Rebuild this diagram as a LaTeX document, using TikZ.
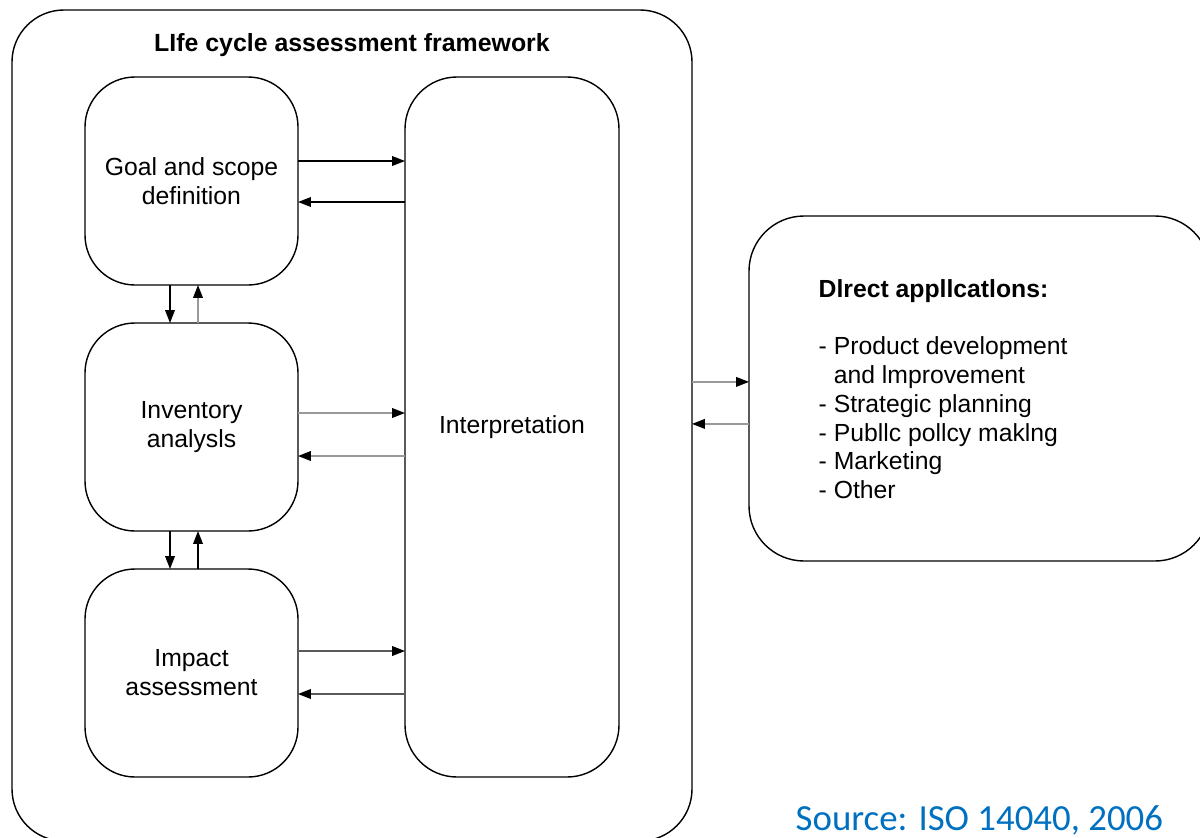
\documentclass[tikz,border=0pt]{standalone}
\usepackage{fontspec}
\setmainfont{Liberation Sans}
\newfontfamily\sourcefont{Carlito}
\usetikzlibrary{arrows.meta,positioning}

\definecolor{srcblue}{RGB}{0,112,192}

\tikzset{
  frame/.style={draw=black,rounded corners=1.3cm,minimum width=17cm,minimum height=20.775cm,outer sep=0pt},
  heading/.style={font=\bfseries\fontsize{17.7}{21}\selectfont,inner sep=0pt},
  stage/.style={draw=black,rounded corners=1.25cm,minimum width=5.325cm,minimum height=5.2cm,
    align=center,outer sep=0pt,font=\fontsize{17.6}{20.5}\selectfont},
  apps/.style={draw=black,rounded corners=1.375cm,minimum width=11.525cm,minimum height=8.625cm,outer sep=0pt},
  list/.style={align=left,inner sep=0pt,font=\fontsize{17.6}{20.5}\selectfont},
  gline/.style={black!40,-{Triangle[length=0.32cm,width=0.24cm,color=black]}},
  mline/.style={black!65,-{Triangle[length=0.32cm,width=0.24cm,color=black]}}
}

\begin{document}
\begin{tikzpicture}[->,line width=1pt,>={Triangle[length=0.32cm,width=0.24cm]}]

\useasboundingbox (0,0) rectangle (30,-20.925);

%framework box
\node [frame] (lca) at (8.8,-10.6375) {};
\node [heading] (title) [below=0.575cm of lca.north] {LIfe cycle assessment framework};

%phases
\node [stage] (goal) at (4.7875,-4.525) {Goal and scope\\definition};
\node [stage] (inv) [below=0.95cm of goal] {Inventory\\analysls};
\node [stage] (imp) [below=0.95cm of inv] {Impact\\assessment};

\node [stage,minimum width=5.35cm,minimum height=17.5cm,rounded corners=1.3cm] (interp) [right=2.675cm of goal.north east,anchor=north west] {Interpretation};

\path ([yshift=0.5cm]goal.east) edge ([yshift=0.5cm]goal.east -| interp.west)
      ([yshift=-0.525cm]goal.east -| interp.west) edge ([yshift=-0.525cm]goal.east);

\path ([yshift=0.35cm]inv.east) edge [gline] ([yshift=0.35cm]inv.east -| interp.west)
      ([yshift=-0.725cm]inv.east -| interp.west) edge [gline] ([yshift=-0.725cm]inv.east);

\path ([yshift=0.55cm]imp.east) edge [mline] ([yshift=0.55cm]imp.east -| interp.west)
      ([yshift=-0.525cm]imp.east -| interp.west) edge [mline] ([yshift=-0.525cm]imp.east);

%between phases
\path ([xshift=-0.5375cm]goal.south) edge ([xshift=-0.5375cm]inv.north)
      ([xshift=0.1625cm]inv.north) edge [gline] ([xshift=0.1625cm]goal.south);

\path ([xshift=-0.5375cm]inv.south) edge ([xshift=-0.5375cm]imp.north)
      ([xshift=0.1625cm]imp.north) edge ([xshift=0.1625cm]inv.south);

%direct applications
\node [apps] (direct) [right=1.425cm of lca.east,yshift=0.925cm] {};
\node [list] (dtext) [below right=1.575cm and 1.725cm of direct.north west]
  {\textbf{Dlrect appllcatlons:}\\[20pt]
   - Product development\\
   \phantom{- }and lmprovement\\
   - Strategic planning\\
   - Publlc pollcy maklng\\
   - Marketing\\
   - Other};

\path ([yshift=1.09cm]lca.east) edge [gline] ([yshift=1.09cm]lca.east -| direct.west)
      ([yshift=0.04cm]lca.east -| direct.west) edge [gline] ([yshift=0.04cm]lca.east);

%source
\node [font=\sourcefont\fontsize{26.2}{30}\selectfont,text=srcblue,inner sep=0pt,anchor=base west] (src) at (19.875,-20.75) {Source: ISO 14040, 2006};

\end{tikzpicture}
\end{document}
